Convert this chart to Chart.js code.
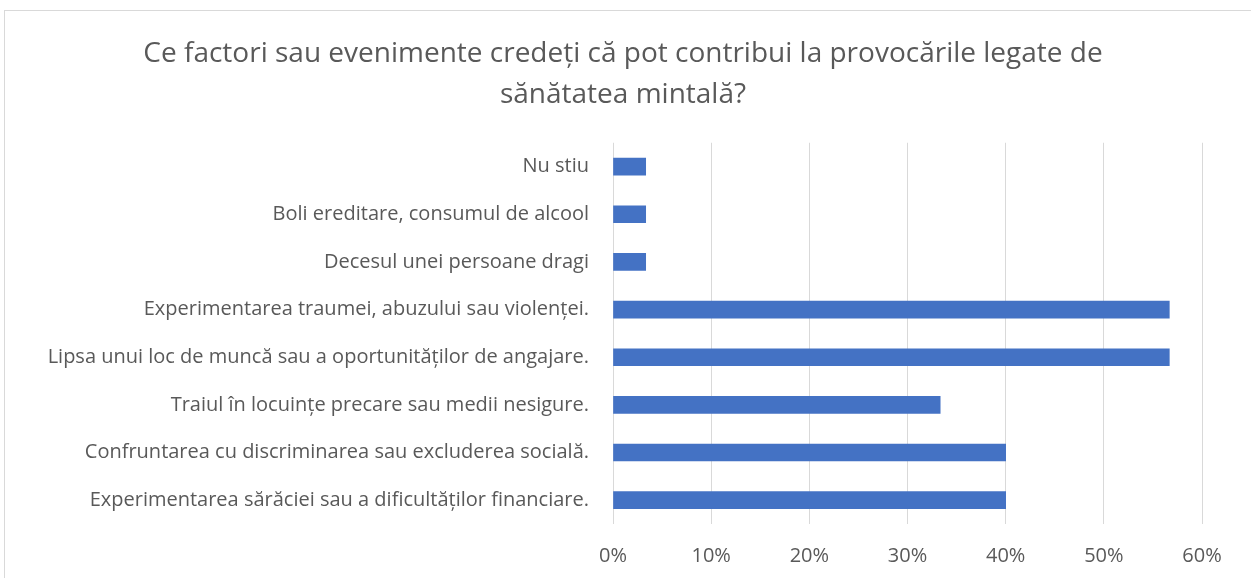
<!DOCTYPE html>
<html>
<head>
<meta charset="utf-8">
<script src="https://cdn.jsdelivr.net/npm/chart.js@4"></script>
<style>
html,body{margin:0;padding:0;background:#fff;}
#wrap{width:1251px;height:578px;position:relative;}
</style>
</head>
<body>
<div id="wrap"><canvas id="c" width="1251" height="578"></canvas></div>
<script>
const titleLines = ["Ce factori sau evenimente credeți că pot contribui la provocările legate de", "sănătatea mintală?"];
const categories = [
  "Nu stiu",
  "Boli ereditare, consumul de alcool",
  "Decesul unei persoane dragi",
  "Experimentarea traumei, abuzului sau violenței.",
  "Lipsa unui loc de muncă sau a oportunităților de angajare.",
  "Traiul în locuințe precare sau medii nesigure.",
  "Confruntarea cu discriminarea sau excluderea socială.",
  "Experimentarea sărăciei sau a dificultăților financiare."
];
const values = [3.33, 3.33, 3.33, 56.67, 56.67, 33.33, 40, 40];
const xTicks = [0, 10, 20, 30, 40, 50, 60];

const FONT = "'Open Sans', 'Noto Sans', sans-serif";
const TXT = "#595959";

const borderPlugin = {
  id: 'frame',
  beforeDraw(chart) {
    const ctx = chart.ctx;
    ctx.save();
    ctx.fillStyle = '#fff';
    ctx.fillRect(0, 0, chart.width, chart.height);
    ctx.strokeStyle = '#d9d9d9';
    ctx.lineWidth = 1;
    ctx.strokeRect(4.5, 10.5, 1400, 1000);
    ctx.restore();
  }
};

new Chart(document.getElementById('c'), {
  type: 'bar',
  data: {
    labels: categories,
    datasets: [{
      data: values,
      backgroundColor: '#4472C4',
      borderWidth: 0,
      barThickness: 17
    }]
  },
  options: {
    indexAxis: 'y',
    responsive: false,
    animation: false,
    layout: { padding: { top: 10, right: 49, bottom: 0, left: 44 } },
    plugins: {
      legend: { display: false },
      tooltip: { enabled: false },
      title: {
        display: true,
        text: titleLines,
        color: TXT,
        font: { family: FONT, size: 28, weight: 'normal', lineHeight: 1.46 },
        padding: { top: 24, bottom: 27 }
      }
    },
    scales: {
      x: {
        min: 0, max: 60,
        afterBuildTicks(s) { s.ticks = xTicks.map(v => ({ value: v })); },
        afterFit(s) { s.height = 54; },
        ticks: {
          color: TXT,
          font: { family: FONT, size: 20 },
          padding: 20,
          callback: v => v + '%'
        },
        grid: { color: '#d9d9d9', lineWidth: 1, drawTicks: false },
        border: { display: false }
      },
      y: {
        afterFit(s) { s.width = 569; },
        ticks: {
          color: TXT,
          font: { family: FONT, size: 20 },
          padding: 16,
          autoSkip: false
        },
        grid: { display: false },
        border: { display: false }
      }
    }
  },
  plugins: [borderPlugin]
});
</script>
</body>
</html>
